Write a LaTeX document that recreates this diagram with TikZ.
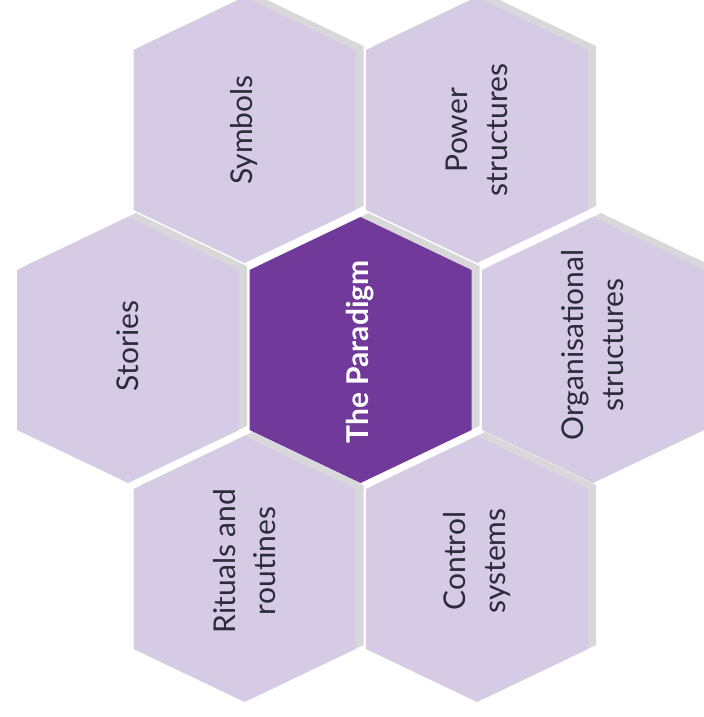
\documentclass[tikz,border=0pt]{standalone}
\usepackage{fontspec}
\setmainfont{Lato}
\definecolor{hexlav}{HTML}{D5CBE5}
\definecolor{hexpurple}{HTML}{70399A}
\definecolor{hexshadow}{HTML}{D8D8DA}
\definecolor{hextext}{HTML}{2C2B3C}
\newcommand{\hexoutline}{(-111,-80) -- (0,-133) -- (111,-80) -- (111,80) -- (0,133) -- (-111,80) -- cycle}
\begin{document}
\begin{tikzpicture}[x=0.5pt,y=-0.5pt,
  hexlabel/.style={rotate=90, align=center, text=hextext, font=\fontsize{15}{20}\selectfont},
  centerlabel/.style={rotate=90, align=center, text=white, font=\fontsize{15}{20}\selectfont\bfseries}]
\useasboundingbox (0,0) rectangle (704,717);
\foreach \cx/\cy in {244.5/130, 477/130, 128/350, 593/350, 244.5/569, 477/569}{
  \fill[hexshadow, shift={(\cx+8,\cy-4)}] \hexoutline;
  \fill[hexlav, shift={(\cx,\cy)}] \hexoutline;
}
\fill[hexshadow, shift={(368.5,346)}] \hexoutline;
\fill[hexpurple, shift={(360.5,350)}] \hexoutline;
\node[hexlabel] (symbols) at (244.5,130) {Symbols};
\node[hexlabel] (power) at (477,130) {Power\\structures};
\node[hexlabel] (stories) at (128,346) {Stories};
\node[centerlabel] (paradigm) at (360.5,352) {The Paradigm};
\node[hexlabel] (org) at (593,345) {Organisational\\structures};
\node[hexlabel] (rituals) at (244.5,561) {Rituals and\\routines};
\node[hexlabel] (control) at (477,561) {Control\\systems};
\end{tikzpicture}
\end{document}
